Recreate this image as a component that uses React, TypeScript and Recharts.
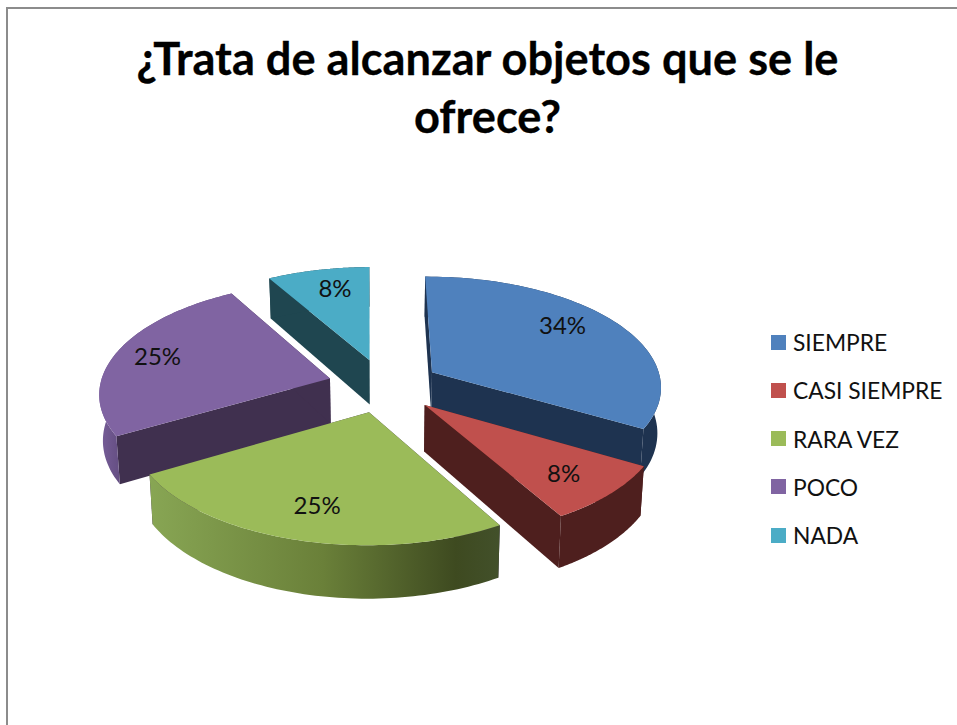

import React from 'react';
import { PieChart, Pie, Legend } from 'recharts';

const categories = ['SIEMPRE', 'CASI SIEMPRE', 'RARA VEZ', 'POCO', 'NADA'];
const values = [33.5, 8.3, 25, 25, 8.2];
const titleLines = ['¿Trata de alcanzar objetos que se le', 'ofrece?'];

const topColors = ['#4f81bd', '#c0504d', '#9bbb59', '#8064a2', '#4bacc6'];
const wallColors = ['#1e3350', '#4e1f1e', '#40304f', '#40304f', '#1f4650'];
const arcFills = ['#1e3350', '#4e1f1e', 'url(#greenWall)', 'url(#purpleWall)', '#1f4650'];
const paintLayers = [[4], [3], [0, 1, 2]];
const labelNudges = [[-8, -9], [3, 2], [0, -1], [-12, -3], [5, -3]];

const data = categories.map((name, i) => ({ name, value: values[i], fill: topColors[i] }));

const EXPLODE = 0.245;
const TILT = 110;
const PERSP = 0.12;
const DEPTH = 45.5;
const BOTTOM_SHRINK = 0.987;
const rad = (d: number) => (d * Math.PI) / 180;

function project(cx: number, cy: number, R: number, X: number, Z: number) {
  const s = 1 / (1 - PERSP * Z);
  return { x: cx + X * s * R, y: cy + Z * s * TILT, s };
}

function worldPoint(mid: number, angle: number, r: number) {
  return {
    X: EXPLODE * Math.cos(rad(mid)) + r * Math.cos(rad(angle)),
    Z: -EXPLODE * Math.sin(rad(mid)) - r * Math.sin(rad(angle)),
  };
}

const fmt = (p: { x: number; y: number }) => `${p.x.toFixed(2)},${p.y.toFixed(2)}`;

function makeShape(layer: number[]) {
  return function Slice3D(props: any) {
    const { cx, cy, outerRadius, startAngle, endAngle, index } = props;
    if (!layer.includes(index)) return null;
    const mid = (startAngle + endAngle) / 2;
    const proj = (angle: number, r: number) => {
      const w = worldPoint(mid, angle, r);
      return project(cx, cy, outerRadius, w.X, w.Z);
    };
    const down = (p: { x: number; y: number; s: number }) => ({
      x: cx + (p.x - cx) * BOTTOM_SHRINK,
      y: p.y + DEPTH * p.s,
      s: p.s,
    });
    const arc: { x: number; y: number; s: number }[] = [];
    const steps = 72;
    for (let i = 0; i <= steps; i++) {
      arc.push(proj(startAngle + ((endAngle - startAngle) * i) / steps, 1));
    }
    const apex = proj(mid, 0);
    const first = arc[0];
    const last = arc[arc.length - 1];
    const wall = (a: any, b: any) => [a, b, down(b), down(a)].map(fmt).join(' ');
    const arcWall = [...arc, ...arc.slice().reverse().map(down)].map(fmt).join(' ');
    const top = [apex, ...arc].map(fmt).join(' ');
    return (
      <g>
        <polygon points={wall(apex, first)} fill={wallColors[index]} />
        <polygon points={wall(apex, last)} fill={wallColors[index]} />
        <polygon points={arcWall} fill={arcFills[index]} />
        <polygon points={top} fill={topColors[index]} />
      </g>
    );
  };
}

function renderLabel(props: any) {
  const { cx, cy, outerRadius, midAngle, percent, index } = props;
  const w = worldPoint(midAngle, midAngle, 0.75);
  const p = project(cx, cy, outerRadius, w.X, w.Z);
  return (
    <text
      x={p.x + labelNudges[index][0]}
      y={p.y + labelNudges[index][1]}
      textAnchor="middle"
      dominantBaseline="central"
      fontSize={24}
      fontFamily="Lato"
      fill="#111"
    >
      {`${Math.round(percent * 100)}%`}
    </text>
  );
}

function LegendList() {
  return (
    <div style={{ fontFamily: 'Lato', fontSize: 22.8, color: '#111' }}>
      {categories.map((c, i) => (
        <div key={c} style={{ height: 48.25, display: 'flex', alignItems: 'center' }}>
          <span style={{ width: 15, height: 15, background: topColors[i], marginRight: 7, flex: 'none' }} />
          <span style={{ whiteSpace: 'nowrap' }}>{c}</span>
        </div>
      ))}
    </div>
  );
}

export default function App() {
  return (
    <div style={{ position: 'absolute', left: 0, top: 0, width: 957, height: 725, background: '#fff', overflow: 'hidden' }}>
      <div style={{ position: 'absolute', left: 6, top: 7, width: 960, height: 730, border: '2px solid #8c8c8c', boxSizing: 'border-box' }} />
      <PieChart width={957} height={725} margin={{ top: 0, right: 0, bottom: 0, left: 0 }}>
        <defs>
          <linearGradient id="greenWall" gradientUnits="userSpaceOnUse" x1={148} y1={0} x2={498} y2={0}>
            <stop offset="0%" stopColor="#88a654" />
            <stop offset="50%" stopColor="#6a8039" />
            <stop offset="88%" stopColor="#3e4a20" />
            <stop offset="100%" stopColor="#42502a" />
          </linearGradient>
          <linearGradient id="purpleWall" gradientUnits="userSpaceOnUse" x1={97} y1={0} x2={125} y2={0}>
            <stop offset="0%" stopColor="#7a609c" />
            <stop offset="100%" stopColor="#5f4a7c" />
          </linearGradient>
        </defs>
        {titleLines.map((t, i) => (
          <text key={t} x={487.5} y={75 + i * 58} textAnchor="middle" fontFamily="Lato" fontWeight={700} fontSize={45.2} stroke="#000" strokeWidth={0.3} fill="#000">
            {t}
          </text>
        ))}
        {paintLayers.map((layer, li) => (
          <Pie
            key={li}
            data={data}
            dataKey="value"
            nameKey="name"
            cx={384}
            cy={385.5}
            innerRadius={0}
            outerRadius={230}
            startAngle={90.5}
            endAngle={-269.5}
            stroke="none"
            isAnimationActive={false}
            shape={makeShape(layer)}
            label={li === paintLayers.length - 1 ? renderLabel : false}
            labelLine={false}
          />
        ))}
        <Legend
          layout="vertical"
          align="right"
          verticalAlign="middle"
          content={<LegendList />}
          wrapperStyle={{ left: 771, top: 318, right: 'auto', bottom: 'auto', width: 186 }}
        />
      </PieChart>
    </div>
  );
}
